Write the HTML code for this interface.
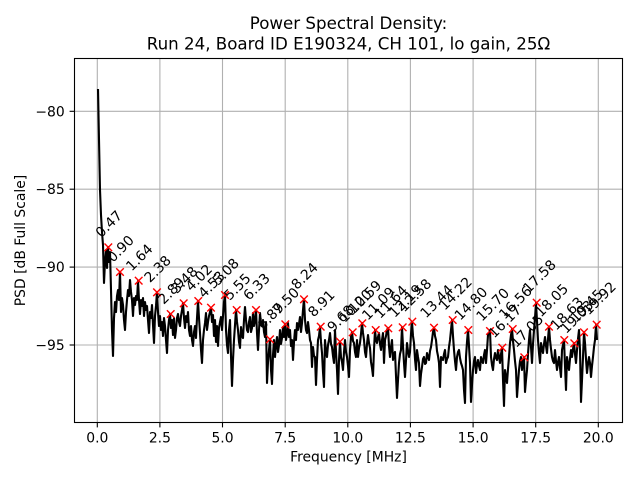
<!DOCTYPE html>
<html><head><meta charset="utf-8"><style>
html,body{margin:0;padding:0;background:#fff;}
svg{display:block;font-family:"DejaVu Sans","Liberation Sans",sans-serif;}
</style></head><body>
<svg width="640" height="480" viewBox="0 0 640 480" xmlns="http://www.w3.org/2000/svg">
<rect x="0" y="0" width="640" height="480" fill="#fff"/>
<defs><path id="m" d="M-3.8,-3.8L3.8,3.8M-3.8,3.8L3.8,-3.8" stroke="#ff0000" stroke-width="1.4" fill="none"/></defs>
<g stroke="#b0b0b0" stroke-width="1.1">
<line x1="97.3" y1="58.5" x2="97.3" y2="422.5"/>
<line x1="159.9" y1="58.5" x2="159.9" y2="422.5"/>
<line x1="222.5" y1="58.5" x2="222.5" y2="422.5"/>
<line x1="285.2" y1="58.5" x2="285.2" y2="422.5"/>
<line x1="347.8" y1="58.5" x2="347.8" y2="422.5"/>
<line x1="410.4" y1="58.5" x2="410.4" y2="422.5"/>
<line x1="473.1" y1="58.5" x2="473.1" y2="422.5"/>
<line x1="535.7" y1="58.5" x2="535.7" y2="422.5"/>
<line x1="598.3" y1="58.5" x2="598.3" y2="422.5"/>
<line x1="74.5" y1="111.3" x2="622.5" y2="111.3"/>
<line x1="74.5" y1="189.2" x2="622.5" y2="189.2"/>
<line x1="74.5" y1="267.1" x2="622.5" y2="267.1"/>
<line x1="74.5" y1="345" x2="622.5" y2="345"/>
</g>
<polyline fill="none" stroke="#000" stroke-width="2.1" stroke-linejoin="round" points="98,89 99,140 100,190 101,215 102,232 103,245 104,283 105,262 106,250 107,268 108,247 109,262 110,252 111,290 112,330 113,356 114,318 115,302 116,312 117,296 118,290 119,300 120,272 121,312 122,298 123,305 124,320 125,330 126,312 127,300 128,290 129,296 130,280 131,292 132,300 133,316 134,298 135,305 136,296 137,300 138,281 139,300 140,314 141,300 142,306 143,298 144,316 145,302 146,310 147,306 148,320 149,333 150,312 151,318 152,305 153,325 154,343 155,316 156,306 157,292 158,312 159,326 160,316 161,330 162,322 163,336 164,318 165,326 166,340 167,353 168,330 169,320 170,314 171,328 172,320 173,335 174,318 175,338 176,330 177,318 178,314 179,322 180,326 181,316 182,310 183,303 184,318 185,328 186,316 187,322 188,312 189,330 190,336 191,326 192,340 193,346 194,332 195,326 196,338 197,318 198,301 199,318 200,333 201,350 202,363 203,340 204,330 205,323 206,313 207,330 208,322 209,316 210,312 211,308 212,322 213,315 214,336 215,320 216,342 217,326 218,346 219,328 220,322 221,317 222,330 223,316 224,302 225,295 226,330 227,345 228,353 229,330 230,320 231,356 232,386 233,360 234,340 235,325 236,310 237,322 238,330 239,342 240,348 241,327 242,336 243,338 244,320 245,307 246,320 247,330 248,332 249,322 250,317 251,332 252,328 253,313 254,326 255,320 256,310 257,333 258,350 259,330 260,313 261,324 262,326 263,320 264,332 265,337 266,322 267,383 268,362 269,350 270,339 271,370 272,384 273,355 274,340 275,357 276,345 277,337 278,352 279,345 280,330 281,344 282,338 283,327 284,337 285,324 286,340 287,334 288,323 289,337 290,330 291,346 292,340 293,360 294,342 295,330 296,340 297,323 298,330 299,324 300,317 301,332 302,323 303,310 304,299 305,320 306,330 307,333 308,322 309,330 310,340 311,343 312,367 313,347 314,356 315,357 316,385 317,360 318,340 319,336 320,327 321,342 322,353 323,372 324,387 325,340 326,352 327,357 328,345 329,340 330,333 331,344 332,347 333,356 334,363 335,330 336,352 337,370 338,394 339,360 340,342 341,357 342,362 343,370 344,352 345,340 346,352 347,357 348,366 349,377 350,350 351,337 352,332 353,341 354,343 355,352 356,357 357,340 358,357 359,348 360,343 361,334 362,323 363,333 364,340 365,352 366,357 367,344 368,335 369,343 370,348 371,362 372,368 373,376 374,350 375,330 376,340 377,343 378,337 379,333 380,344 381,350 382,340 383,333 384,363 385,340 386,336 387,330 388,328 389,346 390,357 391,347 392,340 393,360 394,354 395,352 396,376 397,398 398,380 399,363 400,354 401,350 402,327 403,346 404,363 405,377 406,360 407,343 408,351 409,357 410,352 411,334 412,322 413,336 414,343 415,359 416,370 417,350 418,357 419,363 420,386 421,374 422,367 423,359 424,357 425,364 426,363 427,353 428,357 429,360 430,351 431,347 432,340 433,332 434,328 435,336 436,340 437,351 438,356 439,363 440,387 441,357 442,359 443,360 444,354 445,350 446,363 447,359 448,357 449,347 450,340 451,330 452,320 453,336 454,350 455,361 456,370 457,357 458,352 459,350 460,358 461,363 462,366 463,370 464,390 465,403 466,357 467,342 468,330 469,346 470,363 471,402 472,385 473,370 474,361 475,357 476,373 477,365 478,360 479,366 480,370 481,357 482,361 483,363 484,355 485,350 486,363 487,350 488,335 489,333 490,331 491,357 492,365 493,370 494,359 495,353 496,358 497,360 498,350 499,357 500,363 501,354 502,348 503,380 504,406 505,370 506,377 507,383 508,369 509,357 510,343 511,335 512,329 513,341 514,350 515,361 516,370 517,397 518,383 519,370 520,361 521,357 522,370 523,361 524,357 525,392 526,380 527,370 528,354 529,340 530,330 531,347 532,363 533,344 534,330 535,318 536,303 537,321 538,340 539,353 540,363 541,343 542,349 543,353 544,344 545,337 546,346 547,353 548,339 549,327 550,340 551,349 552,357 553,361 554,363 555,350 556,361 557,370 558,362 559,357 560,368 561,377 562,350 563,345 564,340 565,366 566,390 567,357 568,364 569,370 570,359 571,350 572,357 573,349 574,343 575,354 576,363 577,350 578,339 579,330 580,350 581,402 582,380 583,357 584,332 585,343 586,359 587,373 588,364 589,357 590,363 591,377 592,366 593,357 594,347 595,340 596,325 597,340"/>
<g>
<use href="#m" x="108.3" y="247.3"/><use href="#m" x="120" y="272"/><use href="#m" x="138.7" y="280.7"/><use href="#m" x="157" y="292.3"/><use href="#m" x="170.7" y="314"/><use href="#m" x="183.7" y="303.3"/><use href="#m" x="198.3" y="301"/><use href="#m" x="211" y="307.7"/><use href="#m" x="225" y="295"/><use href="#m" x="236.7" y="310"/><use href="#m" x="256" y="310"/><use href="#m" x="270" y="339.3"/><use href="#m" x="285.3" y="324.3"/><use href="#m" x="304" y="299.3"/><use href="#m" x="320.7" y="326.7"/><use href="#m" x="340" y="341.7"/><use href="#m" x="352.7" y="332.3"/><use href="#m" x="362.3" y="323.3"/><use href="#m" x="375.7" y="330"/><use href="#m" x="388.3" y="328.3"/><use href="#m" x="402.7" y="327.3"/><use href="#m" x="412.3" y="321.7"/><use href="#m" x="434" y="327.7"/><use href="#m" x="452.7" y="320"/><use href="#m" x="468.3" y="330"/><use href="#m" x="490" y="331"/><use href="#m" x="502.3" y="347.7"/><use href="#m" x="512.7" y="329"/><use href="#m" x="524.3" y="357.3"/><use href="#m" x="536.7" y="302.7"/><use href="#m" x="549" y="326.7"/><use href="#m" x="564.3" y="340"/><use href="#m" x="574.3" y="343.3"/><use href="#m" x="584" y="332.3"/><use href="#m" x="596.7" y="324.7"/>
</g>
<g font-size="13.9" fill="#000">
<text transform="translate(101.3,238.3) rotate(-45)">0.47</text>
<text transform="translate(113,263) rotate(-45)">0.90</text>
<text transform="translate(131.7,271.7) rotate(-45)">1.64</text>
<text transform="translate(150,283.3) rotate(-45)">2.38</text>
<text transform="translate(163.7,305) rotate(-45)">2.89</text>
<text transform="translate(176.7,294.3) rotate(-45)">3.48</text>
<text transform="translate(191.3,292) rotate(-45)">4.02</text>
<text transform="translate(204,298.7) rotate(-45)">4.53</text>
<text transform="translate(218,286) rotate(-45)">5.08</text>
<text transform="translate(229.7,301) rotate(-45)">5.55</text>
<text transform="translate(249,301) rotate(-45)">6.33</text>
<text transform="translate(263,330.3) rotate(-45)">6.89</text>
<text transform="translate(278.3,315.3) rotate(-45)">7.50</text>
<text transform="translate(297,290.3) rotate(-45)">8.24</text>
<text transform="translate(313.7,317.7) rotate(-45)">8.91</text>
<text transform="translate(333,332.7) rotate(-45)">9.68</text>
<text transform="translate(344.7,323.3) rotate(-45)">10.20</text>
<text transform="translate(354.3,314.3) rotate(-45)">10.59</text>
<text transform="translate(367.7,321) rotate(-45)">11.09</text>
<text transform="translate(380.3,319.3) rotate(-45)">11.64</text>
<text transform="translate(394.7,318.3) rotate(-45)">12.19</text>
<text transform="translate(404.3,312.7) rotate(-45)">12.58</text>
<text transform="translate(426,318.7) rotate(-45)">13.44</text>
<text transform="translate(444.7,311) rotate(-45)">14.22</text>
<text transform="translate(460.3,321) rotate(-45)">14.80</text>
<text transform="translate(482,322) rotate(-45)">15.70</text>
<text transform="translate(494.3,338.7) rotate(-45)">16.17</text>
<text transform="translate(504.7,320) rotate(-45)">16.56</text>
<text transform="translate(516.3,348.3) rotate(-45)">17.05</text>
<text transform="translate(528.7,293.7) rotate(-45)">17.58</text>
<text transform="translate(541,317.7) rotate(-45)">18.05</text>
<text transform="translate(556.3,331) rotate(-45)">18.63</text>
<text transform="translate(566.3,334.3) rotate(-45)">19.03</text>
<text transform="translate(576,323.3) rotate(-45)">19.45</text>
<text transform="translate(588.7,315.7) rotate(-45)">19.92</text>
</g>
<rect x="74.5" y="58.5" width="548" height="364" fill="none" stroke="#000" stroke-width="1.1"/>
<g stroke="#000" stroke-width="1.1">
<line x1="97.3" y1="422.5" x2="97.3" y2="427.4"/>
<line x1="159.9" y1="422.5" x2="159.9" y2="427.4"/>
<line x1="222.5" y1="422.5" x2="222.5" y2="427.4"/>
<line x1="285.2" y1="422.5" x2="285.2" y2="427.4"/>
<line x1="347.8" y1="422.5" x2="347.8" y2="427.4"/>
<line x1="410.4" y1="422.5" x2="410.4" y2="427.4"/>
<line x1="473.1" y1="422.5" x2="473.1" y2="427.4"/>
<line x1="535.7" y1="422.5" x2="535.7" y2="427.4"/>
<line x1="598.3" y1="422.5" x2="598.3" y2="427.4"/>
<line x1="69.6" y1="111.3" x2="74.5" y2="111.3"/>
<line x1="69.6" y1="189.2" x2="74.5" y2="189.2"/>
<line x1="69.6" y1="267.1" x2="74.5" y2="267.1"/>
<line x1="69.6" y1="345" x2="74.5" y2="345"/>
</g>
<g font-size="13.9" fill="#000" text-anchor="middle">
<text x="97.3" y="442.5">0.0</text>
<text x="159.9" y="442.5">2.5</text>
<text x="222.5" y="442.5">5.0</text>
<text x="285.2" y="442.5">7.5</text>
<text x="347.8" y="442.5">10.0</text>
<text x="410.4" y="442.5">12.5</text>
<text x="473.1" y="442.5">15.0</text>
<text x="535.7" y="442.5">17.5</text>
<text x="598.3" y="442.5">20.0</text>
<text x="348.5" y="461.5">Frequency [MHz]</text>
<text transform="translate(25,240.5) rotate(-90)">PSD [dB Full Scale]</text>
</g>
<g font-size="13.9" fill="#000" text-anchor="end">
<text x="64.7" y="116.3">−80</text>
<text x="64.7" y="194.2">−85</text>
<text x="64.7" y="272.1">−90</text>
<text x="64.7" y="350">−95</text>
</g>
<g font-size="16.67" fill="#000" text-anchor="middle">
<text x="348.5" y="29">Power Spectral Density:</text>
<text x="348.5" y="49.5">Run 24, Board ID E190324, CH 101, lo gain, 25Ω</text>
</g>
</svg>
</body></html>
